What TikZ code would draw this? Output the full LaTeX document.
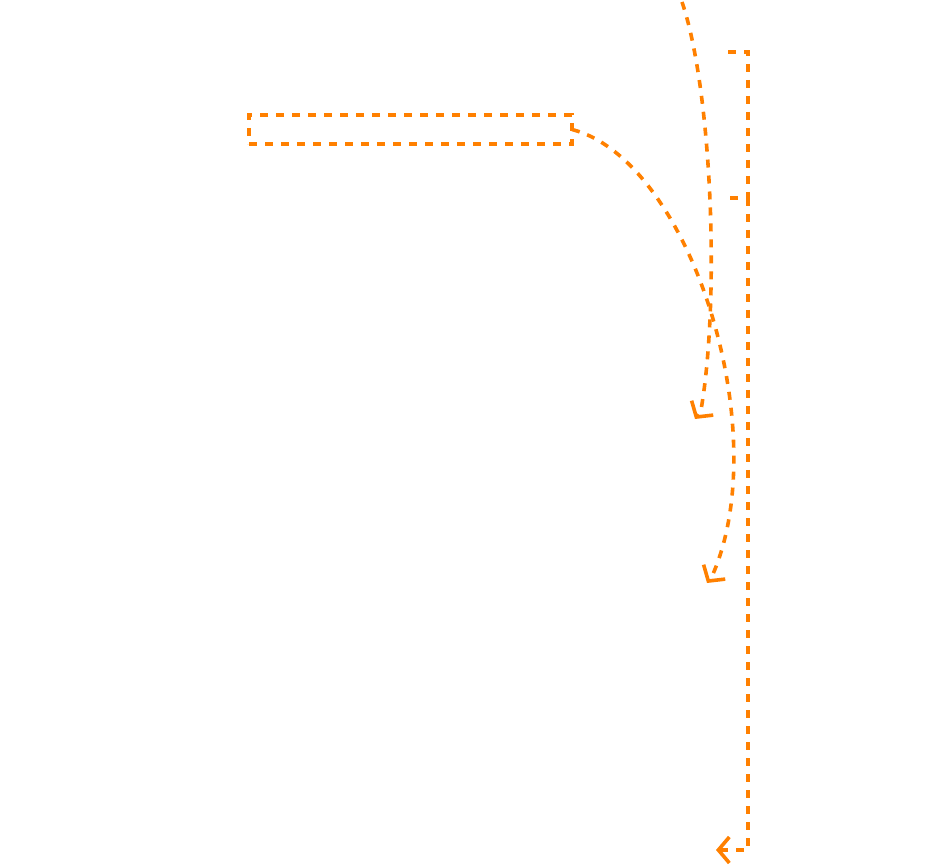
\documentclass[tikz,border=0pt]{standalone}
\usetikzlibrary{arrows.meta}
\definecolor{lineorange}{RGB}{255,128,0}
\tikzset{
  dline/.style={draw=lineorange, line width=3.6pt, dash pattern=on 8pt off 8pt},
  barb/.style={-{Straight Barb[length=11pt,width=26pt,line width=3.6pt]}},
  boxnode/.style={rectangle, inner sep=0pt, outer sep=0pt}
}
\begin{document}
\begin{tikzpicture}[x=1pt,y=-1pt]
\useasboundingbox (0,0) rectangle (932,866);
% nodes
\node[boxnode, dline, minimum width=323pt, minimum height=29pt] (A) at (410.5,129.5) {};
\node[boxnode, minimum width=20pt, minimum height=146pt] (B) at (738,125) {};
\draw[dline] (B.north west) -- (B.north east) -- (B.south east) -- (B.south west);
% coordinates
\coordinate (s1) at (682,2);
\coordinate (e1) at (695,419);
\coordinate (e2) at (707,583);
\coordinate (c3) at (748,850);
\coordinate (e3) at (716,850);
% connectors
\draw[dline, barb] (s1) .. controls (712,90) and (720,300) .. (701,410) -- (e1);
\draw[dline, barb] (A.east) .. controls (690,160) and (775,430) .. (713,574) -- (e2);
\draw[dline, barb] (B.south east) -- (c3) -- (e3);
\end{tikzpicture}
\end{document}
